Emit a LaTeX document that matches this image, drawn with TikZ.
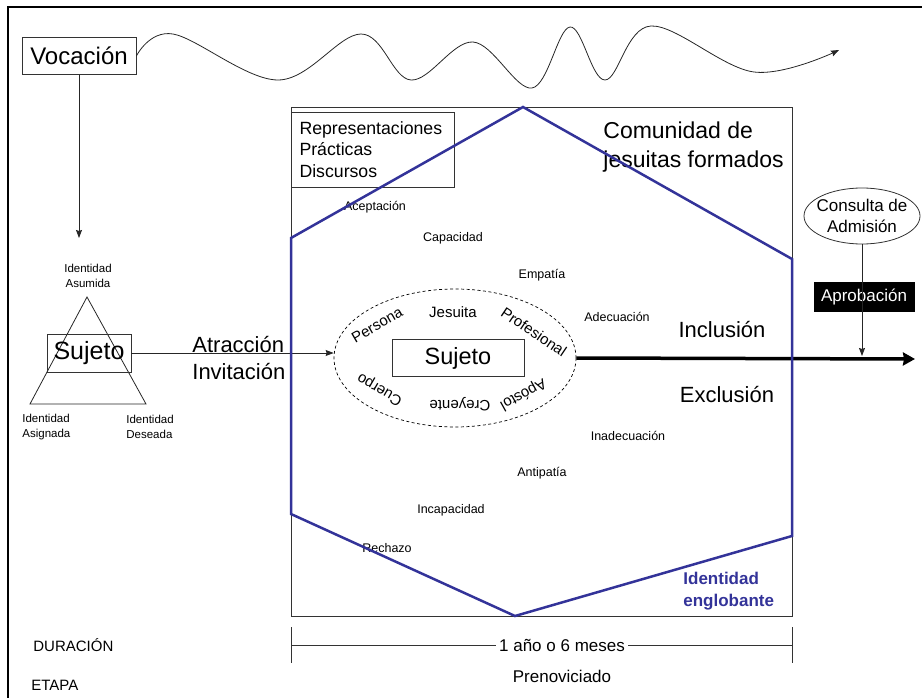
\documentclass[tikz,border=0pt]{standalone}
\usepackage{fontspec}
\setmainfont{Liberation Sans}
\usepackage{tikz}
\usetikzlibrary{shapes.geometric, arrows, arrows.meta}
\definecolor{hexblue}{RGB}{51,51,153}
\tikzstyle{box} = [rectangle, draw=black!80, inner sep=0pt, text centered]
\tikzstyle{big} = [font=\fontsize{22}{27}\selectfont, inner sep=0pt]
\tikzstyle{mid} = [font=\fontsize{17}{21.5}\selectfont, inner sep=0pt]
\tikzstyle{small} = [font=\fontsize{12.5}{15}\selectfont, inner sep=0pt]
\tikzstyle{tiny} = [font=\fontsize{11.5}{15}\selectfont, inner sep=0pt]
\tikzstyle{ring} = [font=\fontsize{15}{18}\selectfont, inner sep=0pt]
\tikzstyle{arrow} = [line width=0.8pt, draw=black!85, -{Stealth[length=8pt, width=6pt, inset=1pt]}]
\tikzstyle{thickarrow} = [line width=3.5pt, -{Stealth[length=12pt, width=13pt, inset=1pt]}]
\tikzstyle{hexline} = [draw=hexblue, line width=2.5pt, line join=miter]

\begin{document}
\begin{tikzpicture}[x=1pt, y=-1pt, line width=0.8pt]
        \useasboundingbox (0,0) rectangle (922,698);
        \draw [line width=1.6pt] (8,698) -- (8,7) -- (922,7);
        \node (voc) [box, font=\fontsize{24}{28}\selectfont, minimum width=114pt, minimum height=37pt] at (79,56) {Vocación};
        \coordinate (waveend) at (839,50);
        \draw [arrow] plot [smooth, tension=0.6] coordinates {(voc.east) (173,34) (278,80) (361,34) (411,80) (473,42) (532,88) (570,27) (605,80) (651,26) (754,72) (waveend)};
        \coordinate (vocend) at (voc.south |- 0,238);
        \draw [arrow] (voc.south) -- (vocend);
        \coordinate (apex) at (87,297);
        \coordinate (baseL) at (30,404);
        \coordinate (baseR) at (146,404);
        \draw [draw=black!85] (apex) -- (baseL) -- (baseR) -- cycle;
        \node (asum) [tiny, align=center] at (88,276) {Identidad\\Asumida};
        \node (asig) [tiny, align=left, anchor=west] at (22,427) {Identidad\\Asignada};
        \node (dese) [tiny, align=left, anchor=west] at (126,427) {Identidad\\Deseada};
        \node (suj1) [box, font=\fontsize{25}{28}\selectfont, minimum width=84pt, minimum height=38pt] at (89,353) {Sujeto};
        \node (atrac) [big, align=left, anchor=west] at (192,358) {Atracción\\Invitación};
        \draw [draw=black!80] (291,107) rectangle (792,616);
        \node (reps) [box, font=\fontsize{17.7}{21.5}\selectfont, align=left, text width=146pt, minimum width=163pt, minimum height=75pt] at (372.5,149.5) {Representaciones\\Prácticas\\Discursos};
        \node (comunidad) [anchor=west, align=left, font=\fontsize{23}{29}\selectfont, inner sep=0pt] at (603,147) {Comunidad de\\jesuitas formados};
        \node (acep) [small] at (375,207) {Aceptación};
        \node (capa) [small] at (453,238) {Capacidad};
        \node (empa) [small] at (542,275) {Empatía};
        \node (adec) [small] at (617,317) {Adecuación};
        \node (inade) [small] at (628,436) {Inadecuación};
        \node (anti) [small] at (542,473) {Antipatía};
        \node (incapa) [small] at (451,510) {Incapacidad};
        \node (rech) [small] at (387,548) {Rechazo};
        \node (incl) [big] at (722,330) {Inclusión};
        \node (excl) [big] at (727,395) {Exclusión};
        \node (core) [ellipse, draw, dashed, dash pattern=on 3pt off 2.5pt, line width=0.7pt, minimum width=242pt, minimum height=138pt] at (455,358) {};
        \node (suj2) [box, font=\fontsize{23.5}{28}\selectfont, minimum width=132pt, minimum height=37pt] at (458,358) {Sujeto};
        \node (persona) [ring, rotate=30] at (377,325) {Persona};
        \node (jesuita) [ring] at (453,312) {Jesuita};
        \node (profe) [ring, rotate=-34] at (534,332) {Profesional};
        \node (cuerpo) [ring, rotate=150] at (380,389) {Cuerpo};
        \node (creyente) [ring, rotate=180] at (460,404) {Creyente};
        \node (apostol) [ring, rotate=209] at (523,394) {Apóstol};
        \draw [arrow] (suj1.east) -- (suj1.east -| core.west);
        \coordinate (flowend) at (915,359);
        \draw [thickarrow] (core.east) -- (flowend);
        \node (consulta) [ellipse, draw=black!80, minimum width=116pt, minimum height=56pt] at (862,216) {};
        \node (consultatxt) [mid, align=center] at (consulta) {Consulta de\\Admisión};
        \node (aprob) [rectangle, fill=black, text=white, mid, minimum width=101pt, minimum height=30pt] at (864,297) {Aprobación};
        \coordinate (aprobend) at (consulta.south |- 0,356);
        \draw [arrow] (consulta.south) -- (aprobend);
        \draw [hexline] (523,107) -- (792,259) -- (792,536) -- (515,616) -- (291,514) -- (291,238) -- cycle;
        \node (englob) [anchor=west, align=left, text=hexblue, font=\fontsize{17}{22}\selectfont\bfseries, inner sep=0pt] at (683,591) {Identidad\\englobante};
        \node (durac) [font=\fontsize{15}{18}\selectfont, anchor=west, inner sep=0pt] at (33,645) {DURACIÓN};
        \node (etapa) [font=\fontsize{15}{18}\selectfont, anchor=west, inner sep=0pt] at (31,685) {ETAPA};
        \node (dur) [mid, inner sep=3pt] at (562,645) {1 año o 6 meses};
        \coordinate (durL) at (291,645);
        \coordinate (durR) at (792,645);
        \draw [draw=black!80] (291,627) -- (291,663);
        \draw [draw=black!80] (792,627) -- (792,663);
        \draw [draw=black!80] (durL) -- (dur.west);
        \draw [draw=black!80] (dur.east) -- (durR);
        \node (preno) [mid] at (562,676) {Prenoviciado};
    \end{tikzpicture}
\end{document}
